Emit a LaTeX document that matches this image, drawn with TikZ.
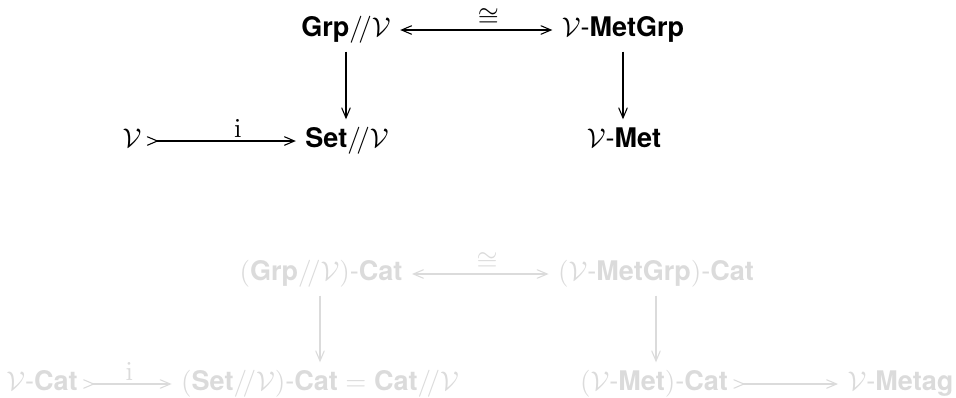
\documentclass[tikz,border=0pt]{standalone}
\usepackage[no-math]{fontspec}
\setmainfont{TeX Gyre Heros}
\usetikzlibrary{arrows,
                positioning}
\newcommand{\dsl}{/\!/}

\begin{document}
\begin{tikzpicture}[x=0.37pt,y=-0.37pt]
                % define styles
\tikzset{obj/.style={inner sep=3.33pt,
                     text height=7pt,
                     text depth=2pt,
                     },
         map/.style={-angle 45,
                     line width=0.4pt,
                     },
         iso/.style={angle 45-angle 45,
                     line width=0.4pt,
                     },
         mono/.style={angle 45 reversed-angle 45,
                     line width=0.4pt,
                     shorten <=-1.5pt,
                     },
         lbl/.style={above,
                     inner sep=1pt,
                     },
         faded/.style={color=black!14}
}
\useasboundingbox (0,0) rectangle (956,397);

% top square
\node[obj]  (grp)     at  (346,30)   {\textbf{Grp}$\dsl\mathcal{V}$};
\node[obj]  (metgrp)  at  (623,30)   {$\mathcal{V}$-\textbf{MetGrp}};
\node[obj]  (set)     at  (347,141)  {\textbf{Set}$\dsl\mathcal{V}$};
\node[obj]  (met)     at  (624,141)  {$\mathcal{V}$-\textbf{Met}};
\node[obj]  (v)       at  (132,141)  {$\mathcal{V}$};

\draw [iso] (grp) -- node[lbl,pos=0.58] {$\cong$} (metgrp);
\draw [map] (grp) -- (grp |- set.north);
\draw [map] (metgrp) -- (metgrp |- met.north);
\draw [mono] (v) -- node[lbl,pos=0.6] {$\mathrm{i}$} (set);

% bottom square, faded
\begin{scope}[faded]
    \node[obj]  (grpcat)     at  (321,274)  {$($\textbf{Grp}$\dsl\mathcal{V})$-\textbf{Cat}};
    \node[obj]  (metgrpcat)  at  (656,274)  {$(\mathcal{V}$-\textbf{MetGrp}$)$-\textbf{Cat}};
    \node[obj]  (setcat)     at  (320,384)  {$($\textbf{Set}$\dsl\mathcal{V})$-\textbf{Cat} $=$ \textbf{Cat}$\dsl\mathcal{V}$};
    \node[obj]  (vcat)       at  (42,384)   {$\mathcal{V}$-\textbf{Cat}};
    \node[obj]  (metcat)     at  (654,384)  {$(\mathcal{V}$-\textbf{Met}$)$-\textbf{Cat}};
    \node[obj,anchor=west] (metag) at (838,384) {$\mathcal{V}$-\textbf{Metag}};

    \draw [iso] (grpcat) -- node[lbl,pos=0.55] {$\cong$} (metgrpcat);
    \draw [map] (grpcat.south -| setcat) -- (setcat);
    \draw [map] (metgrpcat) -- (metgrpcat |- metcat.north);
    \draw [mono] (vcat) -- node[lbl] {$\mathrm{i}$} (setcat);
    \draw [mono] (metcat) -- (metag);
\end{scope}
\end{tikzpicture}
\end{document}
